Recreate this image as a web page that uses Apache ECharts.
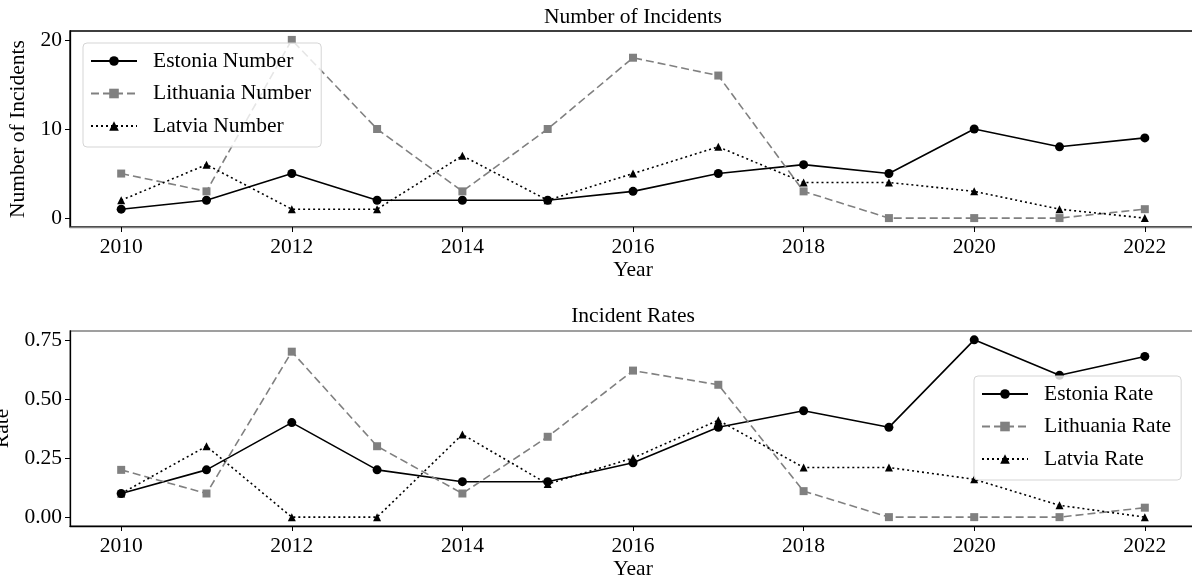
<!DOCTYPE html>
<html><head><meta charset="utf-8">
<script src="https://cdn.jsdelivr.net/npm/echarts@6/dist/echarts.min.js"></script>
<style>html,body{margin:0;padding:0;background:#fff}#c{width:1192px;height:583px}</style>
</head><body><div id="c"></div>
<script>
const years = [2010,2011,2012,2013,2014,2015,2016,2017,2018,2019,2020,2021,2022];
const xTicks = [2010,2012,2014,2016,2018,2020,2022];
const numberTicks = [0,10,20];
const rateTicks = [0,0.25,0.5,0.75];

const estoniaNumber   = [1,2,5,2,2,2,3,5,6,5,10,8,9];
const lithuaniaNumber = [5,3,20,10,3,10,18,16,3,0,0,0,1];
const latviaNumber    = [2,6,1,1,7,2,5,8,4,4,3,1,0];

const estoniaRate   = [0.10,0.20,0.40,0.20,0.15,0.15,0.23,0.38,0.45,0.38,0.75,0.60,0.68];
const lithuaniaRate = [0.20,0.10,0.70,0.30,0.10,0.34,0.62,0.56,0.11,0.00,0.00,0.00,0.04];
const latviaRate    = [0.10,0.30,0.00,0.00,0.35,0.14,0.25,0.41,0.21,0.21,0.16,0.05,0.00];

const FONT = '"Liberation Serif","DejaVu Serif",serif';
const FS = 21.5;
const GRAY = '#808080';

const pairs = arr => arr.map((v,i)=>[years[i], v]);

function xAxisCfg(gridIndex, lineColor){
  return {
    type:'value', gridIndex, min:2009.4, max:2022.6,
    name:'Year', nameLocation:'middle', nameGap:31,
    nameTextStyle:{fontFamily:FONT,fontSize:FS,color:'#000'},
    axisLine:{show:true,onZero:false,lineStyle:{color:lineColor,width:1.3}},
    axisTick:{show:true,length:5,customValues:xTicks,lineStyle:{color:'#000',width:1}},
    axisLabel:{show:true,customValues:xTicks,margin:9,fontFamily:FONT,fontSize:FS,color:'#000',formatter:v=>String(v)},
    splitLine:{show:false}
  };
}
function yAxisCfg(gridIndex, min, max, ticks, name, gap, fmt){
  return {
    type:'value', gridIndex, min, max,
    name, nameLocation:'middle', nameGap:gap, nameRotate:90,
    nameTextStyle:{fontFamily:FONT,fontSize:FS,color:'#000'},
    axisLine:{show:true,onZero:false,lineStyle:{color:'#000',width:1.3}},
    axisTick:{show:true,length:5,customValues:ticks,lineStyle:{color:'#000',width:1}},
    axisLabel:{show:true,customValues:ticks,margin:8,fontFamily:FONT,fontSize:FS,color:'#000',formatter:fmt},
    splitLine:{show:false}
  };
}
function estonia(name, data, idx){
  return {name, type:'line', xAxisIndex:idx, yAxisIndex:idx, data:pairs(data),
    symbol:'circle', symbolSize:9, showAllSymbol:true,
    lineStyle:{color:'#000',width:1.6,type:'solid'}, itemStyle:{color:'#000'}};
}
function lithuania(name, data, idx){
  return {name, type:'line', xAxisIndex:idx, yAxisIndex:idx, data:pairs(data),
    symbol:'rect', symbolSize:8, showAllSymbol:true,
    lineStyle:{color:GRAY,width:1.6,type:[8,4]}, itemStyle:{color:GRAY}};
}
function latvia(name, data, idx){
  return {name, type:'line', xAxisIndex:idx, yAxisIndex:idx, data:pairs(data),
    symbol:'triangle', symbolSize:8, showAllSymbol:true,
    lineStyle:{color:'#000',width:1.6,type:[2,3]}, itemStyle:{color:'#000'}};
}
function legendCfg(names, left, top){
  return {
    orient:'vertical', left, top, data:names,
    itemWidth:46, itemHeight:12, itemGap:10.5,
    padding:[7,10,10,7],
    backgroundColor:'rgba(255,255,255,0.8)', borderColor:'#d5d5d5', borderWidth:1, borderRadius:4,
    textStyle:{fontFamily:FONT,fontSize:FS,color:'#000',padding:[0,0,0,11]},
    selectedMode:false
  };
}

const chart = echarts.init(document.getElementById('c'), null, {renderer:'canvas'});
chart.setOption({
  animation:false,
  backgroundColor:'#fff',
  grid:[
    {left:70, top:31, width:1126, height:196, outerBoundsMode:'none', containLabel:false, show:true, borderColor:'#000', borderWidth:1.3, backgroundColor:'transparent'},
    {left:70, top:331, width:1126, height:195, outerBoundsMode:'none', containLabel:false, show:true, borderColor:GRAY, borderWidth:1.3, backgroundColor:'transparent'}
  ],
  xAxis:[ xAxisCfg(0, GRAY), xAxisCfg(1, '#000') ],
  yAxis:[
    yAxisCfg(0, -1, 21, numberTicks, 'Number of Incidents', 39, v=>String(v)),
    yAxisCfg(1, -0.0375, 0.7875, rateTicks, 'Rate', 52, v=>v.toFixed(2))
  ],
  legend:[
    legendCfg(['Estonia Number','Lithuania Number','Latvia Number'], 83, 43),
    legendCfg(['Estonia Rate','Lithuania Rate','Latvia Rate'], 974, 376)
  ],
  graphic:[
    {type:'text', x:633, y:17, style:{text:'Number of Incidents', textAlign:'center', textVerticalAlign:'middle', font:FS+'px '+FONT, fill:'#000'}},
    {type:'text', x:633, y:316, style:{text:'Incident Rates', textAlign:'center', textVerticalAlign:'middle', font:FS+'px '+FONT, fill:'#000'}}
  ],
  series:[
    estonia('Estonia Number', estoniaNumber, 0),
    lithuania('Lithuania Number', lithuaniaNumber, 0),
    latvia('Latvia Number', latviaNumber, 0),
    estonia('Estonia Rate', estoniaRate, 1),
    lithuania('Lithuania Rate', lithuaniaRate, 1),
    latvia('Latvia Rate', latviaRate, 1)
  ]
});
</script></body></html>
